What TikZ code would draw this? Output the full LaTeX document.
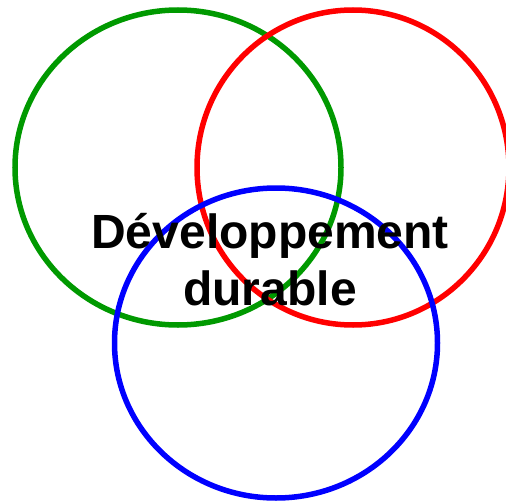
\documentclass[tikz,border=0pt]{standalone}
\usepackage{fontspec}
\newfontfamily\titlefont{Liberation Sans}
\definecolor{pillargreen}{RGB}{0,153,0}
\definecolor{pillarred}{RGB}{255,0,0}
\definecolor{pillarblue}{RGB}{0,0,255}

\begin{document}
\begin{tikzpicture}[x=1pt, y=-1pt,
        ring/.style={line width=5.5pt},
        title/.style={font=\titlefont\bfseries\fontsize{48}{57}\selectfont, align=center, inner sep=0pt}]
    % frame of the picture
    \useasboundingbox (0,0) rectangle (506,503);
    \clip (0,0) rectangle (506,503);

    % centres of the three pillars
    \coordinate (ecology) at (178,167.5);
    \coordinate (economy) at (353,167.5);
    \coordinate (society) at (276,343);

    % the three circles
    \draw[ring, pillargreen] (ecology) ellipse [x radius=163, y radius=157.5];
    \draw[ring, pillarred] (economy) ellipse [x radius=156, y radius=157.5];
    \draw[ring, pillarblue] (society) ellipse [x radius=161.5, y radius=155];

    % title in the middle
    \node[title, anchor=base] (dd) at (270,305) {Développement\\durable};
\end{tikzpicture}
\end{document}
